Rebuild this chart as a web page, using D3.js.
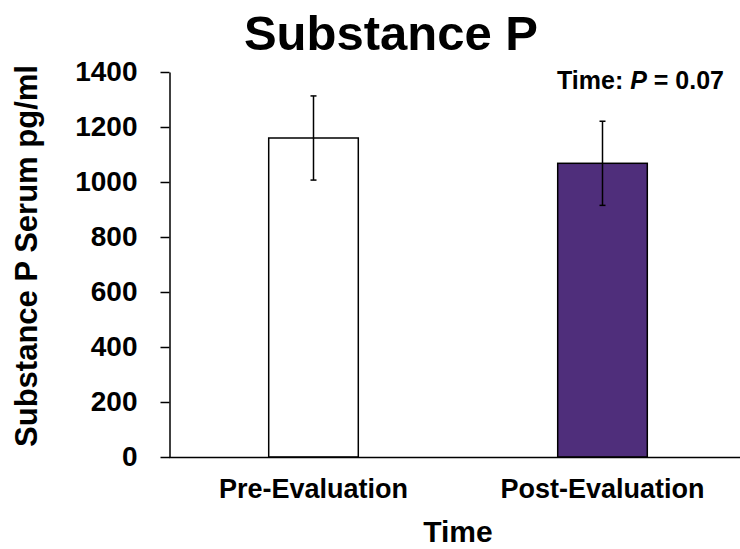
<!DOCTYPE html>
<html>
<head>
<meta charset="utf-8">
<script src="https://cdn.jsdelivr.net/npm/d3@7/dist/d3.min.js"></script>
<style>
  body { margin: 0; background: #fff; }
  text { font-family: "Liberation Sans", Arial, sans-serif; font-weight: bold; fill: #000; }
</style>
</head>
<body>
<script>
// Chart data
var categories = ["Pre-Evaluation", "Post-Evaluation"];
var means = [1160, 1068];
var errors = [153, 153];
var barColors = ["#ffffff", "#4f2e7b"];
var yTicks = [0, 200, 400, 600, 800, 1000, 1200, 1400];

var svgWidth = 740;
var svgHeight = 549;

var svg = d3.select("body")
  .append("svg")
  .attr("width", svgWidth)
  .attr("height", svgHeight);

// scales
var x = d3.scaleBand()
  .domain(categories)
  .range([169, 747])
  .paddingInner(0.69)
  .paddingOuter(0.345);

var y = d3.scaleLinear()
  .domain([0, 1400])
  .range([457, 72]);

// title
svg.append("text")
  .attr("x", 391)
  .attr("y", 50)
  .attr("text-anchor", "middle")
  .style("font-size", "49px")
  .text("Substance P");

// bars
svg.selectAll(".bar")
  .data(categories)
  .enter()
  .append("rect")
  .attr("class", "bar")
  .attr("x", function(d) { return x(d); })
  .attr("y", function(d, i) { return y(means[i]); })
  .attr("width", x.bandwidth())
  .attr("height", function(d, i) { return y(0) - y(means[i]); })
  .attr("fill", function(d, i) { return barColors[i]; })
  .attr("stroke", "#000")
  .attr("stroke-width", 1.5);

// error bars
var err = svg.selectAll(".err")
  .data(categories)
  .enter()
  .append("g")
  .attr("class", "err")
  .attr("stroke", "#000")
  .attr("stroke-width", 1.5);

err.append("line")
  .attr("x1", function(d) { return x(d) + x.bandwidth() / 2; })
  .attr("x2", function(d) { return x(d) + x.bandwidth() / 2; })
  .attr("y1", function(d, i) { return y(means[i] + errors[i]); })
  .attr("y2", function(d, i) { return y(means[i] - errors[i]); });

[1, -1].forEach(function(sign) {
  err.append("line")
    .attr("x1", function(d) { return x(d) + x.bandwidth() / 2 - 3; })
    .attr("x2", function(d) { return x(d) + x.bandwidth() / 2 + 3; })
    .attr("y1", function(d, i) { return y(means[i] + sign * errors[i]); })
    .attr("y2", function(d, i) { return y(means[i] + sign * errors[i]); });
});

// y axis
var yAxis = d3.axisLeft(y)
  .tickValues(yTicks)
  .tickFormat(d3.format("d"))
  .tickSize(9)
  .tickSizeOuter(0)
  .tickPadding(23);

var gy = svg.append("g")
  .attr("transform", "translate(169.5,0)")
  .call(yAxis);
gy.select(".domain").attr("stroke", "#000").attr("stroke-width", 1.5);
gy.selectAll(".tick line").attr("stroke", "#000").attr("stroke-width", 1.5);
gy.selectAll(".tick text")
  .style("font-size", "28px")
  .style("font-family", "'Liberation Sans', Arial, sans-serif")
  .style("font-weight", "bold");

// x axis
var xAxis = d3.axisBottom(x)
  .tickSize(0)
  .tickSizeOuter(0)
  .tickPadding(22);

var gx = svg.append("g")
  .attr("transform", "translate(0," + y(0) + ")")
  .call(xAxis);
gx.select(".domain")
  .attr("d", "M169,0.5H740")
  .attr("stroke", "#000")
  .attr("stroke-width", 1.5);
gx.selectAll(".tick text")
  .attr("dy", "0.71em")
  .style("font-size", "27px")
  .style("font-family", "'Liberation Sans', Arial, sans-serif")
  .style("font-weight", "bold");

// axis titles
svg.append("text")
  .attr("x", 458)
  .attr("y", 542)
  .attr("text-anchor", "middle")
  .style("font-size", "30px")
  .text("Time");

svg.append("text")
  .attr("transform", "translate(37,256) rotate(-90)")
  .attr("text-anchor", "middle")
  .style("font-size", "31px")
  .text("Substance P Serum pg/ml");

// p-value annotation
var note = svg.append("text")
  .attr("x", 724)
  .attr("y", 89)
  .attr("text-anchor", "end")
  .style("font-size", "25px");
note.append("tspan").text("Time: ");
note.append("tspan").style("font-style", "italic").text("P");
note.append("tspan").text(" = 0.07");
</script>
</body>
</html>
